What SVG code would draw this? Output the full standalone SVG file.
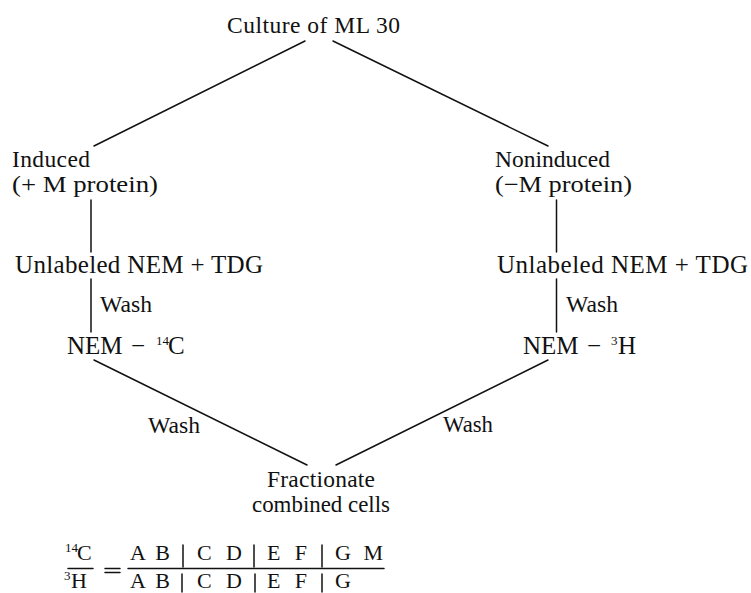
<svg xmlns="http://www.w3.org/2000/svg" width="751" height="593" viewBox="0 0 751 593">
<style>
  text { font-family: "Liberation Serif", "Times New Roman", serif; font-size: 23.5px; fill: #111; }
  .big { font-size: 25px; }
  .frac { font-size: 22px; }
  .sup { font-size: 13px; }
  .edge { stroke: #111; stroke-width: 1.5; fill: none; stroke-linecap: round; }
</style>
<rect width="751" height="593" fill="#fff"/>
<g id="connectors">
  <line class="edge" x1="305" y1="41" x2="94" y2="146"/>
  <line class="edge" x1="333" y1="41" x2="548" y2="146"/>
  <line class="edge" x1="91" y1="200" x2="91" y2="252"/>
  <line class="edge" x1="556.5" y1="200" x2="556.5" y2="252"/>
  <line class="edge" x1="91" y1="279" x2="91" y2="332"/>
  <line class="edge" x1="556.5" y1="279" x2="556.5" y2="332"/>
  <line class="edge" x1="94" y1="360" x2="307" y2="465"/>
  <line class="edge" x1="548" y1="360" x2="336" y2="465"/>
</g>
<g id="labels">
  <text x="100" y="312" textLength="52" lengthAdjust="spacingAndGlyphs">Wash</text>
  <text x="566" y="312" textLength="52" lengthAdjust="spacingAndGlyphs">Wash</text>
  <text x="148" y="433" textLength="52" lengthAdjust="spacingAndGlyphs">Wash</text>
  <text x="443" y="432" textLength="50" lengthAdjust="spacingAndGlyphs">Wash</text>
</g>
<g id="culture">
  <text x="227" y="33" textLength="173" lengthAdjust="spacing">Culture of ML 30</text>
</g>
<g id="induced">
  <text x="12" y="167" textLength="78" lengthAdjust="spacing">Induced</text>
  <text x="12" y="192" textLength="146" lengthAdjust="spacingAndGlyphs">(+ M protein)</text>
</g>
<g id="noninduced">
  <text x="495" y="167" textLength="115" lengthAdjust="spacing">Noninduced</text>
  <text x="495" y="192" textLength="137" lengthAdjust="spacingAndGlyphs">(−M protein)</text>
</g>
<g id="unlabeled-left">
  <text class="big" x="15" y="273" textLength="248" lengthAdjust="spacing">Unlabeled NEM + TDG</text>
</g>
<g id="unlabeled-right">
  <text class="big" x="497" y="273" textLength="251" lengthAdjust="spacing">Unlabeled NEM + TDG</text>
</g>
<g id="nem-14c">
  <text class="big" y="354"><tspan x="67">NEM</tspan><tspan x="131">−</tspan><tspan class="sup" x="156" dy="-9">14</tspan><tspan x="168" dy="9">C</tspan></text>
</g>
<g id="nem-3h">
  <text class="big" y="354"><tspan x="523">NEM</tspan><tspan x="587">−</tspan><tspan class="sup" x="611" dy="-9">3</tspan><tspan x="618" dy="9">H</tspan></text>
</g>
<g id="fractionate">
  <text x="267" y="487" textLength="108" lengthAdjust="spacing">Fractionate</text>
  <text x="252" y="512" textLength="138" lengthAdjust="spacingAndGlyphs">combined cells</text>
</g>
<g id="ratio">
  <text class="frac" y="560"><tspan class="sup" x="65" dy="-8">14</tspan><tspan x="77" dy="8">C</tspan></text>
  <text class="frac" y="588"><tspan class="sup" x="64" dy="-8">3</tspan><tspan x="71" dy="8">H</tspan></text>
  <line class="edge" x1="68" y1="568.5" x2="93" y2="568.5" stroke-width="1.2"/>
  <line class="edge" x1="105" y1="568.5" x2="120" y2="568.5" stroke-width="1.2"/>
  <line class="edge" x1="105" y1="572.5" x2="120" y2="572.5" stroke-width="1.2"/>
  <line class="edge" x1="128" y1="568.5" x2="384" y2="568.5" stroke-width="1.3"/>
  <text class="frac" x="130" y="560" textLength="40" lengthAdjust="spacing">A B</text>
  <text class="frac" x="197" y="560" textLength="45" lengthAdjust="spacing">C D</text>
  <text class="frac" x="267" y="560" textLength="40" lengthAdjust="spacing">E F</text>
  <text class="frac" x="335" y="560" textLength="48" lengthAdjust="spacing">G M</text>
  <text class="frac" x="130" y="588" textLength="40" lengthAdjust="spacing">A B</text>
  <text class="frac" x="197" y="588" textLength="45" lengthAdjust="spacing">C D</text>
  <text class="frac" x="267" y="588" textLength="40" lengthAdjust="spacing">E F</text>
  <text class="frac" x="335" y="588">G</text>
  <line class="edge" x1="183" y1="545" x2="183" y2="567" stroke-width="1.2"/>
  <line class="edge" x1="254" y1="545" x2="254" y2="567" stroke-width="1.2"/>
  <line class="edge" x1="322" y1="545" x2="322" y2="567" stroke-width="1.2"/>
  <line class="edge" x1="182" y1="574" x2="182" y2="592" stroke-width="1.2"/>
  <line class="edge" x1="255" y1="574" x2="255" y2="592" stroke-width="1.2"/>
  <line class="edge" x1="322" y1="574" x2="322" y2="592" stroke-width="1.2"/>
</g>
</svg>
